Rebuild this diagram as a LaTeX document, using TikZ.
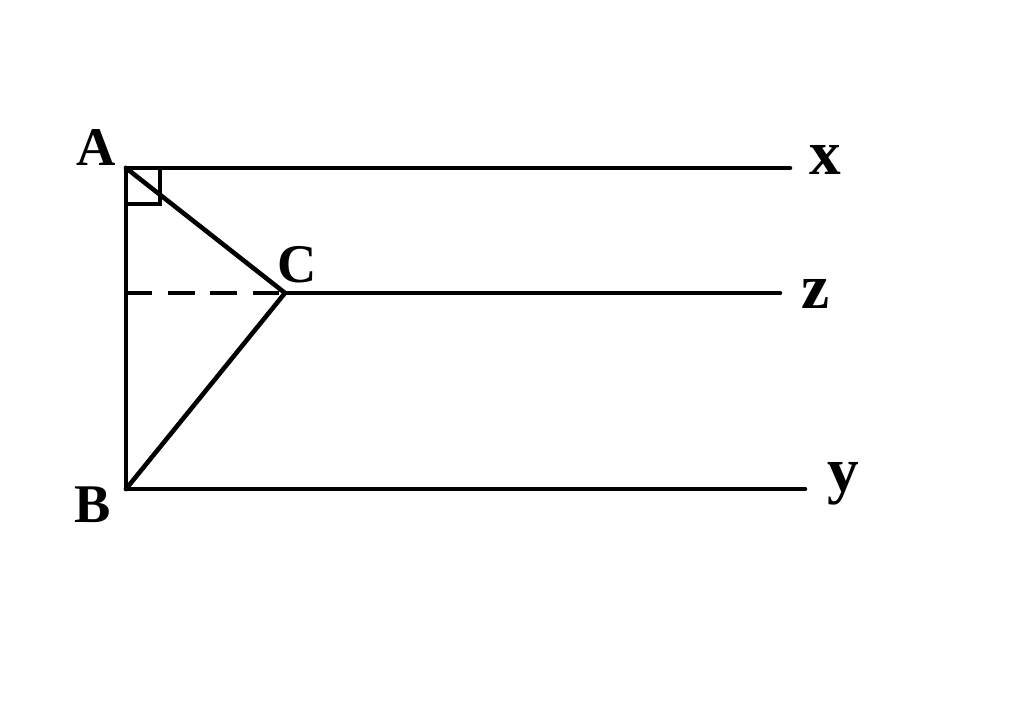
\documentclass[tikz,border=0pt]{standalone}
\usepackage{fontspec}
\setmainfont{Liberation Serif}
\usetikzlibrary{calc}
\tikzset{
    seg/.style={line width=2.6pt, line cap=round, line join=miter},
    lbl/.style={font=\fontsize{31}{36}\selectfont\bfseries, inner sep=0pt},
    lowlbl/.style={font=\fontsize{36}{40}\selectfont\bfseries, inner sep=0pt},
}
\begin{document}
\begin{tikzpicture}[x=0.02cm, y=-0.02cm]
    \useasboundingbox (0,0) rectangle (1024,719);

    \coordinate (A) at (126,168);
    \coordinate (B) at (126,489);
    \coordinate (C) at (285,293);
    \coordinate (X) at (790,168);
    \coordinate (Z) at (780,293);
    \coordinate (Y) at (805,489);
    \coordinate (Cd) at (126,293);

    \node[lbl] (lA) at (96,148) {A};
    \node[lbl] (lB) at (93,505) {B};
    \node[lbl] (lC) at (297,265) {C};
    \node[lowlbl] (lX) at (825,160) {x};
    \node[lowlbl] (lZ) at (816,294) {z};
    \node[lowlbl] (lY) at (843,484) {y};

    \draw[seg] (A) -- (X);
    \draw[seg] (C) -- (Z);
    \draw[seg] (B) -- (Y);
    \draw[seg] (A) -- (B);
    \draw[seg] (A) -- (C) -- (B);
    \draw[seg, dash pattern=on 15pt off 9pt, line cap=butt] (Cd) -- (C);
    % right angle mark
    \draw[seg, line cap=butt] ($(A)+(0,36)$) -- ++(34,0) -- ++(0,-36);
\end{tikzpicture}
\end{document}
